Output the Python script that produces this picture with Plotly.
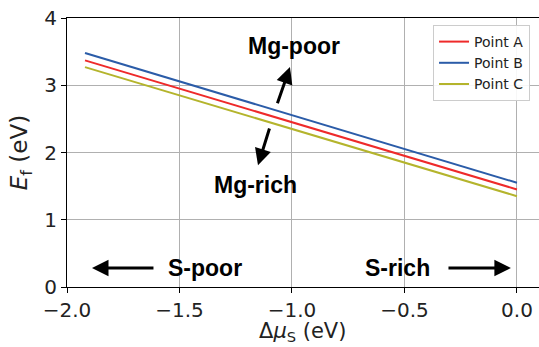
import plotly.graph_objects as go

# Data
mu_s = [-1.92, 0.0]
point_a = [3.37, 1.45]
point_b = [3.48, 1.55]
point_c = [3.27, 1.35]
series_names = ["Point A", "Point B", "Point C"]
series_colors = ["#ee2a2a", "#2b5ca8", "#b4b42c"]
x_ticks = [-2.0, -1.5, -1.0, -0.5, 0.0]
x_tick_labels = ["\u22122.0", "\u22121.5", "\u22121.0", "\u22120.5", "0.0"]
y_ticks = [0, 1, 2, 3, 4]
x_title = "\u0394<i>\u03bc</i><sub>S</sub> (eV)"
y_title = "<i>E</i><sub>f</sub> (eV)"

fig = go.Figure()
for name, ys, col in zip(series_names, [point_a, point_b, point_c], series_colors):
    fig.add_trace(go.Scatter(x=mu_s, y=ys, mode="lines", name=name,
                             line=dict(color=col, width=2)))

bold_font = dict(family="Liberation Sans, Arial", size=23, color="black")

def arrow(x0, y0, x1, y1):
    fig.add_annotation(x=x1, y=y1, ax=x0, ay=y0, xref="x", yref="y",
                       axref="x", ayref="y", showarrow=True, text="",
                       arrowhead=2, arrowsize=1.1, arrowwidth=3, arrowcolor="black")

arrow(-1.609, 0.283, -1.889, 0.283)
arrow(-0.311, 0.283, -0.027, 0.283)
arrow(-1.067, 2.71, -1.009, 3.27)
arrow(-1.098, 2.38, -1.151, 1.81)

for txt, x, y in [("S-poor", -1.387, 0.283), ("S-rich", -0.529, 0.283),
                  ("Mg-poor", -0.991, 3.58), ("Mg-rich", -1.164, 1.52)]:
    fig.add_annotation(x=x, y=y, xref="x", yref="y", text="<b>" + txt + "</b>",
                       showarrow=False, font=bold_font)

# x-axis title as annotation (for exact placement)
fig.add_annotation(x=0.498, y=0, xref="paper", yref="paper", yanchor="top",
                   yshift=-31, showarrow=False, text=x_title, borderpad=0,
                   font=dict(family="DejaVu Sans", size=21, color="#222"))

axis_common = dict(showline=True, linecolor="black", linewidth=1, ticks="outside",
                   ticklen=5, tickcolor="black", showgrid=True, gridcolor="#b0b0b0",
                   gridwidth=0.8, zeroline=False,
                   tickfont=dict(family="DejaVu Sans", size=20, color="#222"))

fig.update_xaxes(range=[-2.0, 0.098], tickvals=x_ticks, ticktext=x_tick_labels,
                 mirror=True, **axis_common)
fig.update_yaxes(range=[0, 4], tickvals=y_ticks, mirror=False,
                 title=dict(text=y_title,
                            font=dict(family="DejaVu Sans", size=23, color="#222"),
                            standoff=10),
                 **axis_common)

fig.update_layout(width=539, height=347, plot_bgcolor="white", paper_bgcolor="white",
                  margin=dict(l=67, r=0, t=18, b=60),
                  legend=dict(x=0.981, y=0.974, xanchor="right", yanchor="top",
                              bordercolor="#cccccc", borderwidth=1,
                              bgcolor="rgba(255,255,255,0.9)",
                              font=dict(family="DejaVu Sans", size=14, color="#222"),
                              tracegroupgap=2),
                  showlegend=True)

fig.write_html("out.html")
